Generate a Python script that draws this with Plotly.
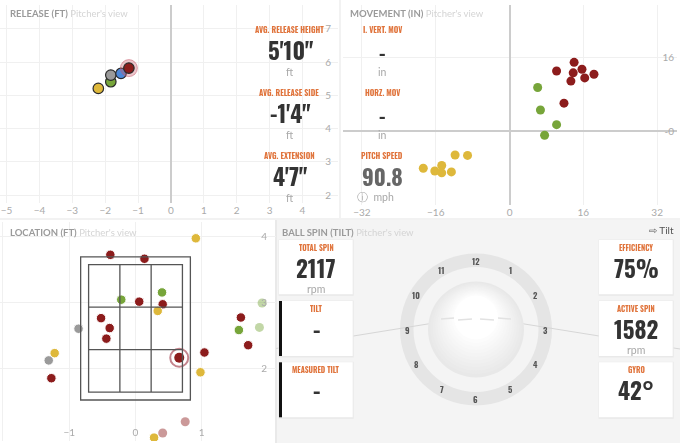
import math
import plotly.graph_objects as go

W, H = 680, 443

# pitch colours
COLORS = {"FF": "#8c1c1c", "FC": "#77a53a", "SL": "#deb83b", "CH": "#9a9a9a", "SI": "#4d88d9"}
ORANGE = "#e0743c"
DARK = "#333333"
SOFT = "#a8a8a8"
LATO = "Lato, Open Sans, sans-serif"
COND = "Oswald, Roboto Condensed, Noto Sans Condensed, Open Sans Condensed, DejaVu Sans Condensed, sans-serif"

# release point (ft), pitcher's view
rel_pitch = ["SL", "FC", "CH", "SI", "FF"]
rel_side = [-2.21, -1.83, -1.83, -1.52, -1.28]
rel_height = [5.21, 5.41, 5.61, 5.66, 5.82]
REL_HL = 4  # highlighted pitch

# movement (in)
mov_pitch = ["FF"] * 8 + ["FC"] * 4 + ["SL"] * 7
mov_horz = [14.0, 10.2, 13.8, 15.7, 18.3, 16.3, 13.3, 11.8,
            6.1, 6.7, 10.2, 7.6,
            -11.8, -9.1, -18.7, -14.7, -16.2, -14.7, -12.6]
mov_vert = [15.0, 13.1, 12.7, 13.5, 12.4, 11.6, 10.9, 6.1,
            9.5, 4.6, 1.4, -0.9,
            -5.2, -5.3, -8.1, -7.5, -8.7, -9.1, -8.9]

# location (ft)
loc_pitch = ["FF"] * 12 + ["FC"] * 3 + ["SL"] * 5 + ["CH"] * 2
loc_x = [-0.38, 0.135, 0.056, 0.41, -0.52, -0.39, -0.44, 0.66, 1.04, 1.59, 1.70, -1.27,
         -0.215, 0.40, 1.56,
         0.91, 0.335, -1.22, 0.98, 0.28,
         -0.86, -1.31]
loc_z = [3.73, 3.67, 3.02, 2.98, 2.77, 2.62, 2.46, 2.17, 2.25, 2.78, 2.36, 1.86,
         3.05, 3.16, 2.59,
         3.98, 2.88, 2.24, 1.95, 0.96,
         2.61, 2.13]
LOC_HL = 7
# pitches fading out of the view
fade_pitch = ["FF", "FF", "FC", "FC"]
fade_x = [0.75, 0.41, 1.87, 1.91]
fade_z = [1.20, 1.03, 2.63, 3.00]

# strike zone (ft)
ZONE_HALF = 0.708
ZONE_BOT, ZONE_TOP = 1.65, 3.58
ZONE_PAD = 0.12

# summary numbers
release_stats = [("AVG. RELEASE HEIGHT", "5'10\"", "ft"),
                 ("AVG. RELEASE SIDE", "-1'4\"", "ft"),
                 ("AVG. EXTENSION", "4'7\"", "ft")]
movement_stats = [("I. VERT. MOV", "-", "in"), ("HORZ. MOV", "-", "in")]
pitch_speed = "90.8"
spin_left = [("TOTAL SPIN", "2117", "rpm"), ("TILT", "-", ""), ("MEASURED TILT", "-", "")]
spin_right = [("EFFICIENCY", "75%", ""), ("ACTIVE SPIN", "1582", "rpm"), ("GYRO", "42°", "")]


def px(x):
    return x / W


def py(y):
    return 1 - y / H


def ann(x, y, text, size, color, family=LATO, xanchor="center"):
    return dict(x=px(x), y=py(y), xref="paper", yref="paper", text=text, showarrow=False,
                xanchor=xanchor, yanchor="middle", font=dict(size=size, color=color, family=family))


def rect(x0, y0, x1, y1, fill, layer="below"):
    return dict(type="rect", xref="paper", yref="paper", x0=px(x0), x1=px(x1), y0=py(y1), y1=py(y0),
                fillcolor=fill, line=dict(width=0), layer=layer)


def circ(cx, cy, r, fill, layer="below"):
    return dict(type="circle", xref="paper", yref="paper", x0=px(cx - r), x1=px(cx + r),
                y0=py(cy + r), y1=py(cy - r), fillcolor=fill, line=dict(width=0), layer=layer)


def seg(x0, y0, x1, y1, color, width=1, layer="below"):
    return dict(type="line", xref="paper", yref="paper", x0=px(x0), x1=px(x1), y0=py(y0), y1=py(y1),
                line=dict(color=color, width=width), layer=layer)


fig = go.Figure()

# release
others = [i for i in range(len(rel_pitch)) if i != REL_HL]
fig.add_trace(go.Scatter(x=[rel_side[i] for i in others], y=[rel_height[i] for i in others], mode="markers",
                         marker=dict(size=10.5, color=[COLORS[rel_pitch[i]] for i in others],
                                     line=dict(width=1.2, color="#2a2a2a")), xaxis="x", yaxis="y"))
fig.add_trace(go.Scatter(x=[rel_side[REL_HL]], y=[rel_height[REL_HL]], mode="markers",
                         marker=dict(size=17, color="rgba(200,90,105,0.35)",
                                     line=dict(width=1, color="rgba(200,90,105,0.5)")), xaxis="x", yaxis="y"))
fig.add_trace(go.Scatter(x=[rel_side[REL_HL]], y=[rel_height[REL_HL]], mode="markers",
                         marker=dict(size=10.5, color=COLORS[rel_pitch[REL_HL]],
                                     line=dict(width=1.2, color="#2a2a2a")), xaxis="x", yaxis="y"))

# movement
fig.add_trace(go.Scatter(x=mov_horz, y=mov_vert, mode="markers",
                         marker=dict(size=9, color=[COLORS[p] for p in mov_pitch], line=dict(width=0)),
                         xaxis="x2", yaxis="y2"))

# location
fig.add_trace(go.Scatter(x=fade_x, y=fade_z, mode="markers", opacity=0.45,
                         marker=dict(size=9, color=[COLORS[p] for p in fade_pitch], line=dict(width=0)),
                         xaxis="x3", yaxis="y3"))
fig.add_trace(go.Scatter(x=loc_x, y=loc_z, mode="markers",
                         marker=dict(size=9.5, color=[COLORS[p] for p in loc_pitch], line=dict(width=1, color="white")),
                         xaxis="x3", yaxis="y3"))
fig.add_trace(go.Scatter(x=[loc_x[LOC_HL]], y=[loc_z[LOC_HL]], mode="markers",
                         marker=dict(size=18, color="white", line=dict(width=2, color="#c4848d")),
                         xaxis="x3", yaxis="y3"))
fig.add_trace(go.Scatter(x=[loc_x[LOC_HL]], y=[loc_z[LOC_HL]], mode="markers",
                         marker=dict(size=10, color=COLORS[loc_pitch[LOC_HL]]),
                         xaxis="x3", yaxis="y3"))

tickfont = dict(family=LATO, size=10, color="#aaaaaa")
grid = "#f0f0f0"

shapes = [
    # faint panel borders
    seg(340, 0, 340, 218, "#f2f2f2", 2),
    seg(0, 219, 680, 219, "#f2f2f2", 2),
    # ball spin panel
    rect(276, 220, 680, 443, "#f4f4f4"),
    seg(276, 220, 276, 443, "#e9e9e9", 2),
]

# strike zone
zone = dict(type="rect", xref="x3", yref="y3", line=dict(color="#555555", width=1.3))
shapes.append(dict(zone, x0=-ZONE_HALF - ZONE_PAD, x1=ZONE_HALF + ZONE_PAD, y0=ZONE_BOT - ZONE_PAD, y1=ZONE_TOP + ZONE_PAD))
shapes.append(dict(zone, x0=-ZONE_HALF, x1=ZONE_HALF, y0=ZONE_BOT, y1=ZONE_TOP))
third_w = 2 * ZONE_HALF / 3
third_h = (ZONE_TOP - ZONE_BOT) / 3
for k in (1, 2):
    shapes.append(dict(type="line", xref="x3", yref="y3", x0=-ZONE_HALF + k * third_w, x1=-ZONE_HALF + k * third_w,
                       y0=ZONE_BOT, y1=ZONE_TOP, line=dict(color="#555555", width=1.3)))
    shapes.append(dict(type="line", xref="x3", yref="y3", x0=-ZONE_HALF, x1=ZONE_HALF,
                       y0=ZONE_BOT + k * third_h, y1=ZONE_BOT + k * third_h, line=dict(color="#555555", width=1.3)))

# clock ring and ball
CX, CY = 476, 329.5
shapes += [circ(CX, CY, 76, "#e5e5e5"), circ(CX, CY, 62.5, "#f4f4f4")]
shapes += [seg(276, 348.5, 440, 322, "#d6d6d6"), seg(512, 322, 680, 349, "#d6d6d6")]
# soft shading of the ball, dark rim to white highlight
steps = 12
for k in range(steps):
    t = k / (steps - 1)
    r = 48 - 26 * t
    g = int(232 + 23 * t)
    shapes.append(circ(CX, CY - 12 * t, r, "rgb(%d,%d,%d)" % (g, g, g)))
# seam
for x0, y0, x1, y1 in [(441, 319, 454, 318), (458, 320, 472, 319), (480, 319, 494, 320), (498, 318, 511, 319)]:
    shapes.append(seg(x0, y0, x1, y1, "#e2e2e2", 1.5))

annotations = []
for h in range(1, 13):
    a = math.radians(90 - 30 * h)
    annotations.append(ann(CX + 69 * math.cos(a), CY - 69 * math.sin(a), "<b>%d</b>" % h, 8.5, "#555555", COND))


# cards
def card(x0, y0, x1, y1, bar=False):
    out = [rect(x0 - 0.5, y0 - 0.5, x1 + 1, y1 + 1.5, "#e9e9e9"), rect(x0, y0, x1, y1, "white")]
    if bar:
        out.append(rect(x0, y0, x0 + 3, y1, "#111111"))
    return out


rows = [(240, 294.3), (301, 356), (362.3, 417.3)]
for i, (y0, y1) in enumerate(rows):
    shapes += card(279, y0, 352.7, y1, bar=i > 0)
    shapes += card(599, y0, 672.7, y1)
    for cx, (label, val, unit) in [(316, spin_left[i]), (636, spin_right[i])]:
        annotations.append(ann(cx, y0 + 7, "<b>%s</b>" % label, 7.5, ORANGE, COND))
        annotations.append(ann(cx, y0 + 28, "<b>%s</b>" % val, 23, DARK, COND))
        if unit:
            annotations.append(ann(cx, y0 + 49, unit, 10.5, SOFT))

# panel titles
for x, y, t in [(8, 13, "RELEASE (FT)"), (348, 13, "MOVEMENT (IN)"), (8, 232, "LOCATION (FT)"),
                (280, 232, "BALL SPIN (TILT)")]:
    annotations.append(ann(x, y, "<b>%s</b> <span style='color:#d4d4d4'>Pitcher's view</span>" % t,
                           9.5, "#9a9a9a", xanchor="left"))
annotations.append(ann(676, 230, "⇨ Tilt", 10, "#555555", xanchor="right"))

# release stats
for i, (label, val, unit) in enumerate(release_stats):
    y0 = 29 + 63 * i
    annotations.append(ann(289, y0, "<b>%s</b>" % label, 7.8, ORANGE, COND))
    annotations.append(ann(290, y0 + 21, "<b>%s</b>" % val, 23, DARK, COND))
    annotations.append(ann(290, y0 + 43, unit, 10.5, SOFT))

# movement stats
for i, (label, val, unit) in enumerate(movement_stats):
    y0 = 29 + 63 * i
    annotations.append(ann(382, y0, "<b>%s</b>" % label, 7.8, ORANGE, COND))
    annotations.append(ann(382, y0 + 23, "<b>%s</b>" % val, 20, DARK, COND))
    annotations.append(ann(382, y0 + 43, unit, 10.5, SOFT))
annotations.append(ann(382, 155, "<b>PITCH SPEED</b>", 7.8, ORANGE, COND))
annotations.append(ann(382, 176, "<b>%s</b>" % pitch_speed, 22, "#666666", COND))
annotations.append(ann(375, 197, "ⓘ  mph", 10.5, SOFT))

axis_common = dict(gridcolor=grid, tickfont=tickfont, fixedrange=True, ticks="")

fig.update_layout(
    width=W, height=H, margin=dict(l=0, r=0, t=0, b=0),
    paper_bgcolor="white", plot_bgcolor="rgba(0,0,0,0)", showlegend=False,
    shapes=shapes, annotations=annotations,
    xaxis=dict(axis_common, domain=[0, px(338)], range=[-5.2, 5.08], dtick=1, anchor="y",
               zeroline=True, zerolinecolor="#cccccc", zerolinewidth=2),
    yaxis=dict(axis_common, domain=[py(203), py(5)], range=[1.76, 7.72], dtick=1, anchor="x", side="right",
               ticklabelposition="inside", ticklabelstandoff=4, zeroline=False),
    xaxis2=dict(axis_common, domain=[px(343), px(677)], range=[-36.1, 36.3], tickvals=[-32, -16, 0, 16, 32],
                anchor="y2", zeroline=True, zerolinecolor="#cccccc", zerolinewidth=2),
    yaxis2=dict(axis_common, domain=[py(205.4), py(5)], range=[-16.2, 27.5], tickvals=[-16, 0, 16],
                ticktext=["-16", "-0", "16"], anchor="x2", side="right", ticklabelposition="inside",
                zeroline=True, zerolinecolor="#cccccc", zerolinewidth=2),
    xaxis3=dict(axis_common, domain=[0, px(276)], range=[-2.045, 2.12], dtick=1, anchor="y3",
                ticklabelposition="inside", zeroline=False),
    yaxis3=dict(axis_common, domain=[py(441), py(222)], range=[0.909, 4.227], dtick=1, anchor="x3", side="right",
                ticklabelposition="inside", ticklabelstandoff=6, zeroline=False),
)

page_fix = "document.body.style.margin='0';"
fig.write_html("out.html", config={"displayModeBar": False}, post_script=page_fix)
